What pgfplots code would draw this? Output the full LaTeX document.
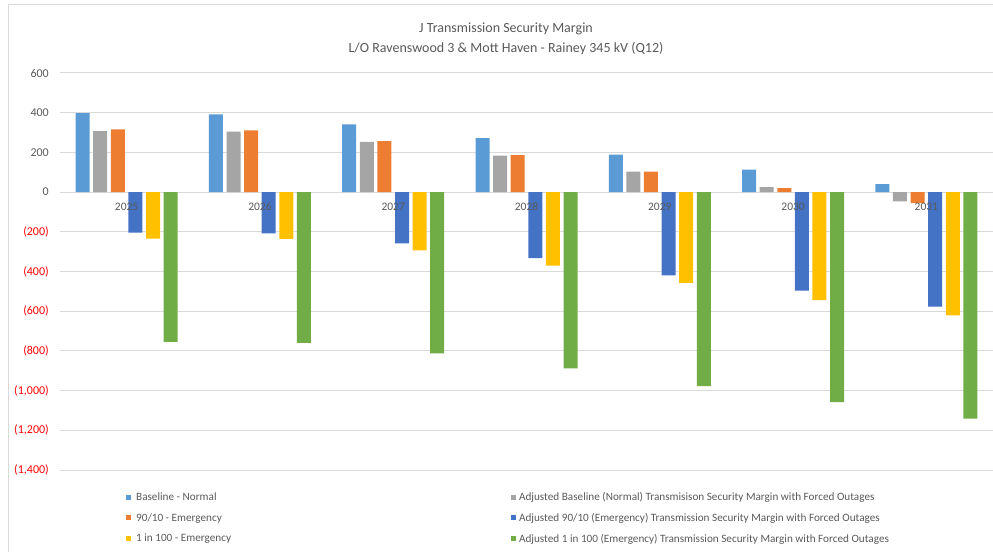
\documentclass[border=0pt]{standalone}
\usepackage{fontspec}
\setmainfont{Carlito}
\usepackage{pgfplots}
\pgfplotsset{compat=1.18}
\definecolor{cBase}{HTML}{5B9BD5}
\definecolor{cAdjBase}{HTML}{A5A5A5}
\definecolor{cNine}{HTML}{ED7D31}
\definecolor{cAdjNine}{HTML}{4472C4}
\definecolor{cOne}{HTML}{FFC000}
\definecolor{cAdjOne}{HTML}{70AD47}
\definecolor{tgray}{HTML}{595959}
\definecolor{gridc}{HTML}{D9D9D9}
\definecolor{framec}{HTML}{D9D9D9}
\pgfplotsset{
  common/.style={
    at={(60pt,82pt)}, anchor=south west,
    width=933pt, height=397pt, scale only axis,
    xmin=-0.5, xmax=6.5, ymin=-1400, ymax=600,
    xtick={0,1,2,3,4,5,6},
    major tick length=0pt,
    /pgf/number format/assume math mode=true,
  }
}
\begin{document}
\begin{tikzpicture}[x=1pt,y=1pt]
\draw[framec, line width=1.5pt] (8.5,0) -- (8.5,547.5) -- (993,547.5);
\node[font=\fontsize{14}{20.5}\selectfont, text=tgray, align=center] at (506,513) {J Transmission Security Margin\\L/O Ravenswood 3 \& Mott Haven - Rainey 345 kV (Q12)};
\begin{axis}[
  common,
  ybar=3.6pt, bar width=14pt,
  ytick={-1400,-1200,-1000,-800,-600,-400,-200,0,200,400,600},
  xticklabels={},
  axis x line*=middle, axis y line*=left,
  hide obscured x ticks=false, hide obscured y ticks=false,
  x axis line style={gridc, line width=1pt},
  y axis line style={draw=none},
  ymajorgrids, grid style={gridc, line width=1pt},
  tick label style={font=\fontsize{12}{14}\selectfont},
  yticklabel style={inner sep=0pt, xshift=-11pt},
  yticklabel={\pgfmathsetmacro\absv{abs(\tick)}\ifdim\tick pt<0pt \textcolor{red}{(\pgfmathprintnumber[fixed,precision=0,1000 sep={,}]{\absv})}\else\textcolor{tgray}{\pgfmathprintnumber[fixed,precision=0,1000 sep={,}]{\absv}}\fi},
  legend columns=2,
  legend cell align=left,
  legend style={at={(0.0707,-0.056)}, anchor=north west, draw=none, fill=none,
    font=\fontsize{11.2}{13}\selectfont, text=tgray,
    inner sep=0pt, row sep=11pt,
    nodes={inner sep=0pt},
    /tikz/column 1/.style={column sep=5pt},
    /tikz/column 2/.style={column sep=280pt},
    /tikz/column 3/.style={column sep=3pt}},
  legend image code/.code={\fill[#1] (0pt,-2.5pt) rectangle (5pt,2.5pt);},
]
\addplot[fill=cBase, draw=none] coordinates {(0,398) (1,392) (2,341) (3,272) (4,189) (5,113) (6,40)};
\addplot[fill=cAdjBase, draw=none] coordinates {(0,307) (1,305) (2,253) (3,184) (4,103) (5,25) (6,-47)};
\addplot[fill=cNine, draw=none] coordinates {(0,316) (1,311) (2,257) (3,186) (4,103) (5,20) (6,-56)};
\addplot[fill=cAdjNine, draw=none] coordinates {(0,-204) (1,-208) (2,-258) (3,-333) (4,-419) (5,-496) (6,-577)};
\addplot[fill=cOne, draw=none] coordinates {(0,-235) (1,-236) (2,-294) (3,-370) (4,-457) (5,-544) (6,-621)};
\addplot[fill=cAdjOne, draw=none] coordinates {(0,-754) (1,-760) (2,-812) (3,-888) (4,-977) (5,-1058) (6,-1141)};
\legend{Baseline - Normal, Adjusted Baseline (Normal) Transmisison Security Margin with Forced Outages, 90/10 - Emergency, Adjusted 90/10 (Emergency) Transmission Security Margin with Forced Outages, 1 in 100 - Emergency, Adjusted 1 in 100 (Emergency) Transmission Security Margin with Forced Outages}
\end{axis}
\begin{axis}[
  common,
  axis x line*=middle, axis y line=none,
  x axis line style={draw=none},
  ytick=\empty,
  xticklabels={2025,2026,2027,2028,2029,2030,2031},
  xticklabel style={text=tgray, font=\fontsize{11.5}{13}\selectfont, yshift=-7.5pt},
]
\end{axis}
\pgfresetboundingbox
\useasboundingbox (0,0) rectangle (993,552);
\end{tikzpicture}
\end{document}
